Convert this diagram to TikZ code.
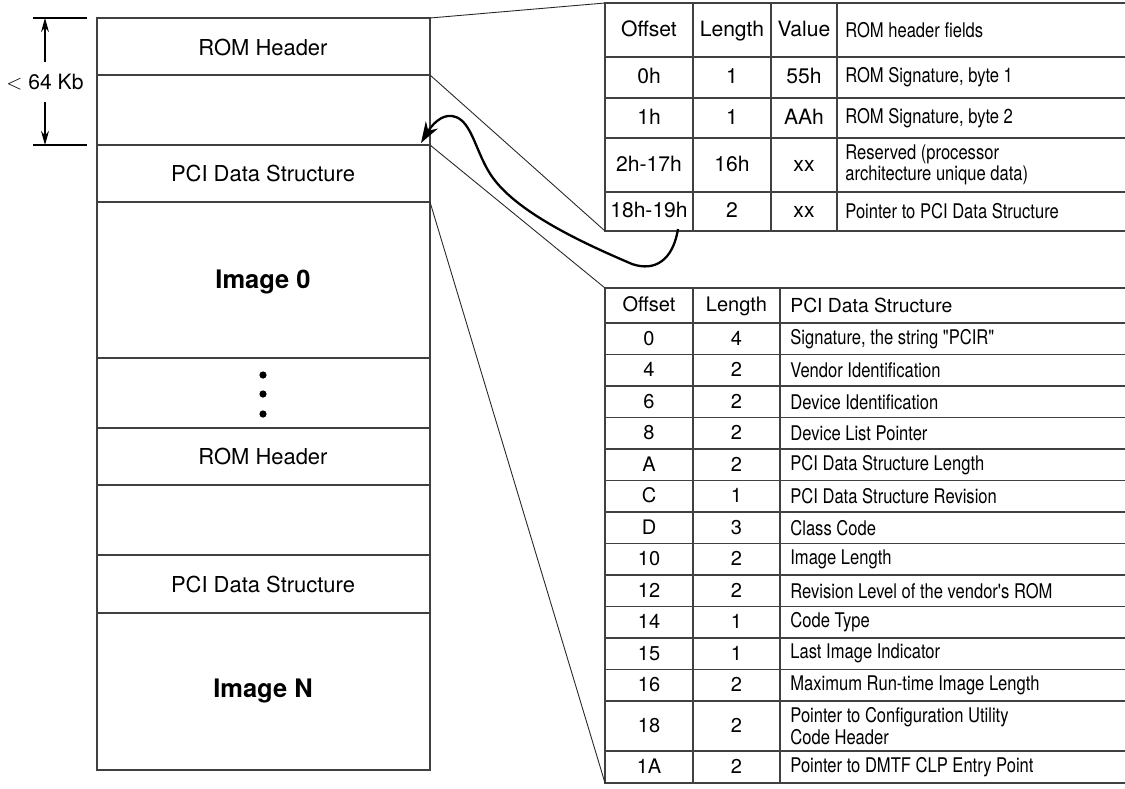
\documentclass[tikz,border=0pt]{standalone}
\usepackage{fontspec}
\setmainfont{TeX Gyre Heros}
\newfontfamily\narrowfont[FakeStretch=0.82]{TeX Gyre Heros}
\usetikzlibrary{arrows.meta}

\tikzset{
  rule/.style={draw=black!75, line width=0.7pt},
  link/.style={draw=black!85, line width=0.5pt},
  blocktext/.style={font=\fontsize{12.5}{14}\selectfont},
  imagetext/.style={font=\fontsize{14.5}{16}\selectfont\bfseries},
  hdrnum/.style={font=\fontsize{12}{14}\selectfont, text height=0.72em, text depth=0pt},
  pcinum/.style={font=\fontsize{11.4}{13}\selectfont, text height=0.72em, text depth=0pt},
  desctext/.style={anchor=west, inner sep=0pt, align=left,
    font=\narrowfont\fontsize{11.5}{9.5}\selectfont},
  ptr/.style={line width=1.3pt, -{Stealth[length=12pt,width=8pt]}},
  dim/.style={line width=0.6pt, -{Stealth[length=8pt,width=4.5pt]}}
}

\begin{document}
\begin{tikzpicture}[x=0.02cm, y=-0.02cm]
    \useasboundingbox (0,0) rectangle (1125,788);

    % image layout column
    \draw[rule] (97,18) rectangle (430,770);
    \foreach \y in {75,145,202,358,428,485,555,613}
        \draw[rule] (97,\y) -- (430,\y);
    \node[blocktext] (romhdr0) at (263,47) {ROM Header};
    \node[blocktext] (pcids0) at (263,173) {PCI Data Structure};
    \node[imagetext] (img0) at (263,282) {Image 0};
    \foreach \y [count=\i] in {375,394,414}
        \fill (263,\y) circle (3.6);
    \node[blocktext] (romhdrN) at (263,456) {ROM Header};
    \node[blocktext] (pcidsN) at (263,584) {PCI Data Structure};
    \node[imagetext] (imgN) at (263,691) {Image N};

    % size marker
    \draw[line width=0.6pt] (33,18) -- (87,18);
    \draw[line width=0.6pt] (33,145) -- (87,145);
    \node[blocktext, font=\fontsize{12}{14}\selectfont] (size) at (45,82) {$<$ 64 Kb};
    \draw[dim] (size.north) ++(0,-6) -- (45,18);
    \draw[dim] (size.south) ++(0,6) -- (45,145);

    % ROM header table
    \draw[rule] (1125,3) -- (605,3) -- (605,231) -- (1125,231);
    \foreach \y in {57,98,138,192}
        \draw[rule] (605,\y) -- (1125,\y);
    \foreach \x in {693,771,837}
        \draw[rule] (\x,3) -- (\x,231);
    \node[hdrnum] (ho0) at (649,30) {Offset};
    \node[hdrnum] (hl0) at (732,30) {Length};
    \node[hdrnum] (hv0) at (804,30) {Value};
    \node[desctext] (hd0) at (845,30) {ROM header fields};
    \foreach \o/\l/\v/\d/\y [count=\i] in {
        0h/1/55h/{ROM Signature, byte 1}/77.5,
        1h/1/AAh/{ROM Signature, byte 2}/118,
        2h-17h/16h/xx/{Reserved (processor\\architecture unique data)}/165,
        18h-19h/2/xx/{Pointer to PCI Data Structure}/211.5} {
        \node[hdrnum] (ho\i) at (649,\y) {\o};
        \node[hdrnum] (hl\i) at (732,\y) {\l};
        \node[hdrnum] (hv\i) at (804,\y) {\v};
        \node[desctext] (hd\i) at (845,\y) {\d};
    }

    % PCI data structure table
    \draw[rule] (1125,288) -- (605,288) -- (605,783) -- (1125,783);
    \draw[rule] (605,323) -- (1125,323);
    \foreach \i in {1,...,11}
        \draw[rule] (605,323+\i*31.5) -- (1125,323+\i*31.5);
    \draw[rule] (605,701) -- (1125,701);
    \draw[rule] (605,751) -- (1125,751);
    \draw[rule] (693,288) -- (693,783);
    \draw[rule] (780,288) -- (780,783);
    \node[pcinum] (po0) at (649,305.5) {Offset};
    \node[pcinum] (pl0) at (736.5,305.5) {Length};
    \node[anchor=west, inner sep=0pt, font=\fontsize{11}{13}\selectfont] (pd0) at (790,305.5) {PCI Data Structure};
    \foreach \o/\l/\d [count=\i] in {
        0/4/{Signature, the string "PCIR"},
        4/2/{Vendor Identification},
        6/2/{Device Identification},
        8/2/{Device List Pointer},
        A/2/{PCI Data Structure Length},
        C/1/{PCI Data Structure Revision},
        D/3/{Class Code},
        10/2/{Image Length},
        12/2/{Revision Level of the vendor's ROM},
        14/1/{Code Type},
        15/1/{Last Image Indicator},
        16/2/{Maximum Run-time Image Length}} {
        \node[pcinum] (po\i) at (649,323+\i*31.5-15.75) {\o};
        \node[pcinum] (pl\i) at (736.5,323+\i*31.5-15.75) {\l};
        \node[desctext] (pd\i) at (790,323+\i*31.5-15.75) {\d};
    }
    \node[pcinum] (po13) at (649,726) {18};
    \node[pcinum] (pl13) at (736.5,726) {2};
    \node[desctext, font=\narrowfont\fontsize{11.5}{8.5}\selectfont] (pd13) at (790,726) {Pointer to Configuration Utility\\Code Header};
    \node[pcinum] (po14) at (649,767) {1A};
    \node[pcinum] (pl14) at (736.5,767) {2};
    \node[desctext] (pd14) at (790,767) {Pointer to DMTF CLP Entry Point};

    % expansion lines
    \draw[link] (430,18) -- (605,3);
    \draw[link] (430,75) -- (605,231);
    \draw[link] (430,145) -- (605,288);
    \draw[link] (430,202) -- (605,783);

    % pointer to PCI data structure
    \coordinate (ptrfrom) at (678,229);
    \coordinate (ptrto) at (421,143);
    \draw[ptr] (ptrfrom) .. controls (673,260) and (655,272) .. (632,264)
        .. controls (590,246) and (520,215) .. (493,178)
        .. controls (474,152) and (472,114) .. (448,116)
        .. controls (438,117) and (430,128) .. (ptrto);
\end{tikzpicture}
\end{document}
